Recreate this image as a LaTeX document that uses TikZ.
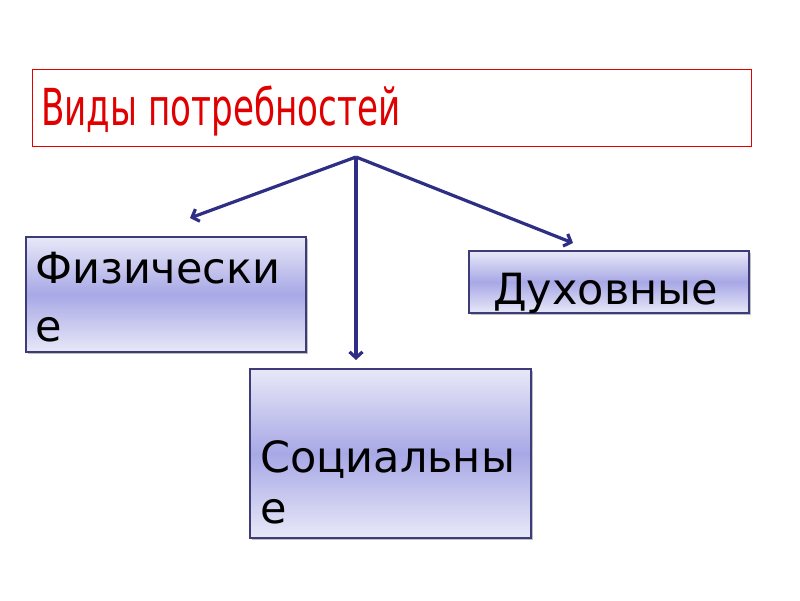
\documentclass[tikz,border=0pt]{standalone}
\usepackage{fontspec}
\setmainfont{DejaVu Sans}
\newfontfamily\titlefont[FakeStretch=0.67]{DejaVu Sans}
\usetikzlibrary{arrows.meta,shadows}
\definecolor{titlered}{HTML}{E00000}
\definecolor{navy}{HTML}{2E2E85}
\definecolor{boxtop}{HTML}{E8E8F8}
\definecolor{boxmid}{HTML}{A8A8E6}
\definecolor{boxedge}{HTML}{3C3C78}

\begin{document}
\begin{tikzpicture}[
  x=1pt,y=-1pt,
  titlebox/.style={draw=titlered,line width=0.8pt,inner sep=0pt},
  box/.style={draw=boxedge,line width=1.2pt,inner sep=0pt,
    top color=boxtop,bottom color=boxtop,middle color=boxmid,
    drop shadow={shadow xshift=2pt,shadow yshift=-2pt,fill=black!25,opacity=1}},
  lbl/.style={inner sep=0pt,anchor=base west,align=left,
    font=\fontsize{43}{58}\selectfont},
  arr/.style={draw=navy,line width=3.2pt,-{Straight Barb[length=6pt,width=13pt]}}
]
\useasboundingbox[fill=white] (0,0) rectangle (800,600);
% title
\node[titlebox,minimum width=719pt,minimum height=77pt] (title) at (391.5,107.5) {};
\node[inner sep=0pt,anchor=base west,text=titlered,font=\titlefont\fontsize{51}{60}\selectfont] (titlelbl) at (41,125) {Виды потребностей};
% boxes
\node[box,minimum width=280pt,minimum height=115pt] (phys) at (166,294.5) {};
\node[lbl] (physlbl) at (35,341) {Физически\\е};
\node[box,minimum width=280pt,minimum height=62pt] (spirit) at (609,282) {};
\node[lbl] (spiritlbl) at (493,304) {Духовные};
\node[box,minimum width=281pt,minimum height=169pt] (soc) at (390.5,453.5) {};
\node[lbl,font=\fontsize{43}{51}\selectfont] (soclbl) at (260,523) {Социальны\\е};
% arrows
\coordinate (hub) at (356,157);
\coordinate (physin) at (190,218);
\coordinate (socin) at (356,360);
\coordinate (spiritin) at (573,243);
\draw[arr] (hub) -- (physin);
\draw[arr] (hub) -- (socin);
\draw[arr] (hub) -- (spiritin);
\end{tikzpicture}
\end{document}
